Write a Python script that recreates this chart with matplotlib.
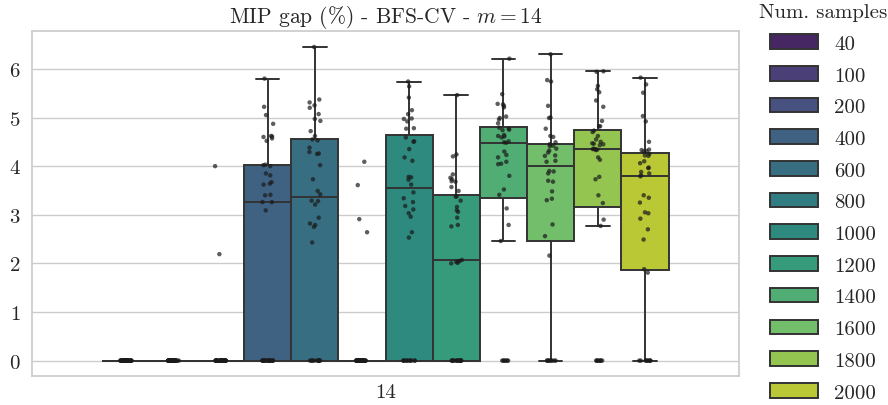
import numpy as np
import pandas as pd
import matplotlib
matplotlib.use('Agg')
import matplotlib.pyplot as plt
import seaborn as sns

# MIP gap (%) per run, one list per number of samples (m = 14)
samples = ['40', '100', '200', '400', '600', '800', '1000', '1200', '1400', '1600', '1800', '2000']
gap_40 = [0.0] * 40
gap_100 = [0.0] * 40
gap_200 = [0.0] * 38 + [2.19, 4.00]
gap_400 = [0.0] * 18 + [3.09, 3.26, 3.26, 3.40, 3.41, 3.62, 3.64, 3.67, 3.81, 3.85, 4.00,
                        4.02, 4.03, 4.52, 4.57, 4.60, 4.61, 4.62, 4.87, 5.05, 5.22, 5.80]
gap_600 = [0.0] * 12 + [2.43, 2.75, 2.79, 2.82, 2.94, 3.21, 3.28, 3.29, 3.42, 3.49, 3.73, 4.02,
                        4.25, 4.26, 4.29, 4.38, 4.53, 4.55, 4.62, 4.72, 4.93, 4.97, 5.07, 5.20,
                        5.25, 5.31, 5.37, 6.45]
gap_800 = [0.0] * 36 + [2.64, 2.91, 3.61, 4.09]
gap_1000 = [0.0] * 11 + [2.53, 2.64, 2.96, 3.03, 3.11, 3.18, 3.26, 3.34, 3.46, 3.62, 3.72, 3.77,
                         3.78, 4.11, 4.18, 4.35, 4.50, 4.51, 4.59, 4.77, 4.78, 4.92, 4.97, 4.98,
                         5.07, 5.15, 5.41, 5.64, 5.74]
gap_1200 = [0.0] * 15 + [2.00, 2.01, 2.03, 2.04, 2.05, 2.07, 2.76, 2.79, 2.94, 3.06, 3.09, 3.16,
                         3.29, 3.37, 3.38, 3.49, 3.57, 3.68, 3.69, 3.73, 3.76, 3.83, 4.20, 4.24, 5.46]
gap_1400 = [0.0] * 7 + [2.46, 2.79, 3.13, 3.41, 3.52, 3.80, 4.04, 4.05, 4.09, 4.18, 4.23, 4.30,
                        4.48, 4.49, 4.51, 4.59, 4.61, 4.62, 4.64, 4.74, 4.75, 4.77, 4.79, 4.88,
                        4.96, 4.99, 5.02, 5.21, 5.24, 5.27, 5.28, 5.48, 6.21]
gap_1600 = [0.0] * 9 + [2.16, 2.56, 2.80, 3.30, 3.33, 3.48, 3.68, 3.70, 3.85, 3.89, 3.90, 4.09,
                        4.11, 4.21, 4.22, 4.28, 4.32, 4.36, 4.41, 4.42, 4.45, 4.49, 4.60, 4.62,
                        4.77, 4.99, 5.00, 5.24, 5.74, 5.77, 6.30]
gap_1800 = [0.0] * 8 + [2.77, 2.90, 3.24, 3.40, 3.73, 3.78, 4.13, 4.18, 4.33, 4.34, 4.35, 4.35,
                        4.36, 4.43, 4.45, 4.46, 4.47, 4.50, 4.55, 4.62, 4.70, 4.73, 4.82, 4.82,
                        4.93, 5.22, 5.35, 5.52, 5.58, 5.65, 5.94, 5.95]
gap_2000 = [0.0] * 9 + [1.81, 1.88, 2.49, 2.70, 2.92, 3.03, 3.05, 3.25, 3.35, 3.40, 3.79, 3.81,
                        3.85, 3.88, 3.96, 3.97, 4.06, 4.10, 4.21, 4.22, 4.25, 4.30, 4.31, 4.33,
                        4.34, 4.50, 4.92, 5.03, 5.51, 5.68, 5.82]

groups = [gap_40, gap_100, gap_200, gap_400, gap_600, gap_800,
          gap_1000, gap_1200, gap_1400, gap_1600, gap_1800, gap_2000]

rows = []
for s, vals in zip(samples, groups):
    for v in vals:
        rows.append({'m': '14', 'samples': s, 'gap': v})
df = pd.DataFrame(rows)

sns.set_theme(style='whitegrid')
plt.rcParams['font.family'] = 'serif'
plt.rcParams['font.serif'] = ['cmr10']
plt.rcParams['mathtext.fontset'] = 'cm'
plt.rcParams['axes.formatter.use_mathtext'] = True
plt.rcParams['axes.unicode_minus'] = False

np.random.seed(3)

fig = plt.figure(figsize=(8.88, 4.06), dpi=100)
ax = fig.add_axes([0.0357, 0.0707, 0.7969, 0.8497])

sns.boxplot(data=df, x='m', y='gap', hue='samples', hue_order=samples,
            palette='viridis', showfliers=False, linewidth=1.4,
            linecolor='#333333', ax=ax)
sns.stripplot(data=df, x='m', y='gap', hue='samples', hue_order=samples,
              palette=['#1a1a1a'] * len(samples), dodge=True, size=3.2, alpha=0.7,
              legend=False, ax=ax)

ax.set_xlim(-0.5, 0.5)
ax.set_xlabel('')
ax.set_ylabel('')
ax.set_title('MIP gap (%) - BFS-CV - $m = 14$', fontsize=15.5, pad=7)
ax.tick_params(axis='y', labelsize=15, length=0, pad=8)
ax.tick_params(axis='x', labelsize=15, length=0, pad=5)

sns.move_legend(ax, 'upper left', bbox_to_anchor=(0.852, 0.995),
                bbox_transform=fig.transFigure, frameon=False,
                title='Num. samples', fontsize=15, title_fontsize=15,
                handlelength=2.3, handleheight=0.7, handletextpad=0.8,
                labelspacing=0.63, borderpad=0.1, borderaxespad=0)

fig.savefig('out.png', dpi=100)
plt.close(fig)
